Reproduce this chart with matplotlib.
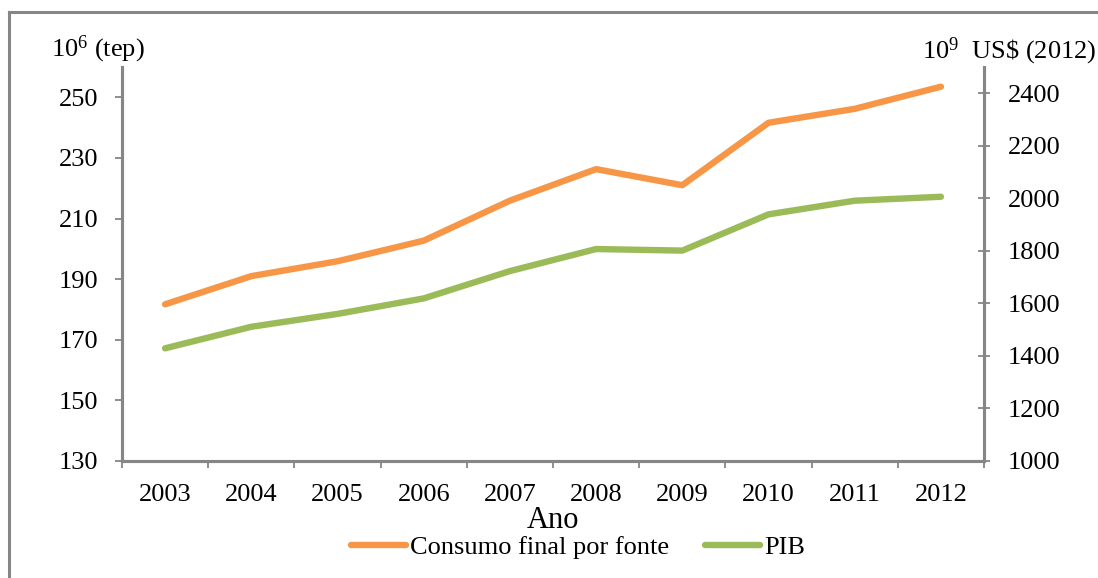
import matplotlib
matplotlib.use("Agg")
import matplotlib.pyplot as plt
from matplotlib.lines import Line2D
import numpy as np

years = ["2003", "2004", "2005", "2006", "2007", "2008", "2009", "2010", "2011", "2012"]
consumo = [181.7, 191.0, 195.9, 202.7, 215.9, 226.3, 221.0, 241.6, 246.2, 253.5]
pib = [1429, 1511, 1560, 1619, 1723, 1807, 1801, 1939, 1991, 2006]
left_ticks = [130, 150, 170, 190, 210, 230, 250]
right_ticks = [1000, 1200, 1400, 1600, 1800, 2000, 2200, 2400]

plt.rcParams["font.family"] = ["Liberation Serif", "DejaVu Serif"]
plt.rcParams["mathtext.fontset"] = "custom"
plt.rcParams["mathtext.rm"] = "Liberation Serif"
plt.rcParams["mathtext.it"] = "Liberation Serif:italic"
plt.rcParams["mathtext.bf"] = "Liberation Serif:bold"
ORANGE = "#F79646"
GREEN = "#9BBB59"
GRAY = "#868686"
FS = 19

fig = plt.figure(figsize=(10.98, 5.78), dpi=100)
ax = fig.add_axes([122 / 1098, 117 / 578, (984 - 122) / 1098, (461 - 67) / 578])
ax2 = ax.twinx()

x = np.arange(len(years))
l1, = ax.plot(x, consumo, color=ORANGE, lw=4.6, solid_capstyle="round", solid_joinstyle="round", zorder=3)
l2, = ax2.plot(x, pib, color=GREEN, lw=4.6, solid_capstyle="round", solid_joinstyle="round", zorder=3)

ax.set_xlim(-0.5, len(years) - 0.5)
ax.set_ylim(130, 260)
ax2.set_ylim(1000, 2500)

ax.set_yticks(left_ticks)
ax.set_yticklabels([str(v) for v in left_ticks], fontsize=FS)
ax2.set_yticks(right_ticks)
ax2.set_yticklabels([str(v) for v in right_ticks], fontsize=FS)

ax.set_xticks(np.arange(-0.5, len(years), 1.0))
ax.set_xticklabels([])
ax.set_xticks(x, minor=True)
ax.set_xticklabels(years, minor=True, fontsize=FS)
ax.tick_params(axis="x", which="minor", length=0, pad=16.5)
ax.tick_params(axis="x", which="major", length=5, width=1.3, color=GRAY, direction="out")
ax.tick_params(axis="y", length=5, width=1.3, color=GRAY, direction="out", pad=12)
ax2.tick_params(axis="y", length=8, width=1.3, color=GRAY, direction="inout", pad=13)

for a in (ax, ax2):
    a.spines["top"].set_visible(False)
    for s in ("left", "right", "bottom"):
        a.spines[s].set_color(GRAY)
        a.spines[s].set_linewidth(2.2)

ax.set_xlabel("Ano", fontsize=22, labelpad=0)

fig.text(51 / 1098, 1 - 49 / 578, r"10$^{6}$ (tep)", fontsize=FS, ha="left", va="center")
fig.text(1096 / 1098, 1 - 51 / 578, r"10$^{9}$  US\$ (2012)", fontsize=FS, ha="right", va="center")

leg = fig.legend([l1, l2], ["Consumo final por fonte", "PIB"], loc="center",
                 bbox_to_anchor=(578 / 1098, 1 - 547 / 578), ncol=2, frameon=False,
                 fontsize=FS, handlelength=2.1, handletextpad=0.15, columnspacing=1.35,
                 borderaxespad=0, borderpad=0)

# outer frame edges
fig.add_artist(Line2D([8.5 / 1098, 8.5 / 1098], [0, 1 - 12 / 578], transform=fig.transFigure,
                      color=GRAY, lw=2.2))
fig.add_artist(Line2D([8.5 / 1098, 1.0], [1 - 12 / 578, 1 - 12 / 578], transform=fig.transFigure,
                      color=GRAY, lw=2.2))

fig.savefig("out.png", dpi=100)
